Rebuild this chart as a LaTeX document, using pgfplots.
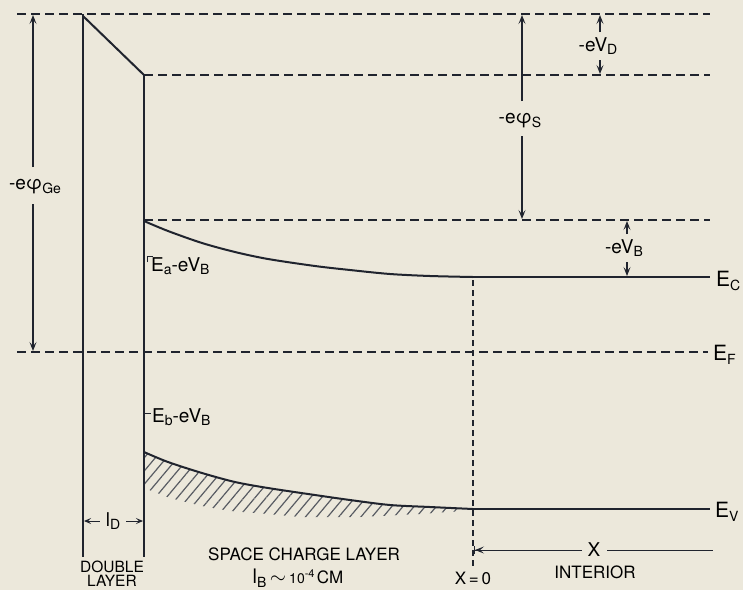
\documentclass[border=0pt]{standalone}
\usepackage{pgfplots}
\pgfplotsset{compat=1.18}
\usepackage{fontspec}
\setmainfont{TeX Gyre Heros}
\usetikzlibrary{arrows.meta,patterns.meta}
\definecolor{bg}{RGB}{236,232,219}
\definecolor{ink}{RGB}{32,36,46}
\newcommand{\sub}[1]{\raisebox{-0.35ex}{\fontsize{14}{14}\selectfont #1}}
\newcommand{\lab}{\fontsize{19}{21}\selectfont}
\newcommand{\biglab}{\fontsize{21}{23}\selectfont}
\newcommand{\caps}{\fontsize{17}{18}\selectfont}
\begin{document}
\begin{tikzpicture}[every node/.style={inner sep=1pt}]
\begin{axis}[width=743pt,height=590pt,scale only axis,hide axis,
  xmin=0,xmax=743,ymin=0,ymax=590,y dir=reverse,clip=false,
  every axis plot/.append style={ink},
  band/.style={ink,line width=2pt},
  dsh/.style={ink,line width=1.8pt,dash pattern=on 9pt off 5pt},
  thin arr/.style={ink,line width=1.1pt,-{Stealth[length=9pt,width=7pt,inset=4pt]}},
  ]
\fill[bg] (rel axis cs:0,0) rectangle (rel axis cs:1,1);
\coordinate (BL) at (rel axis cs:0,0);
\coordinate (TR) at (rel axis cs:1,1);
% hatch under valence band
\addplot[draw=none,pattern={Lines[angle=50,distance=8.5pt,line width=1.2pt]},pattern color=ink!75]
  coordinates {(144,452)(168,462)(202,473)(235,482)(268,488)(315,495)(350,500)(390,505)(430,507)(462,508)
  (462,511)(420,514)(360,517)(300,517)(268,514)(230,511)(202,506)(170,498)(144,488)} -- cycle;
% dashed levels
\addplot[dsh] coordinates {(17,14)(710,14)};
\addplot[dsh] coordinates {(144,75)(710,75)};
\addplot[dsh] coordinates {(144,220)(710,220)};
\addplot[dsh] coordinates {(17,352)(708,352)};
\addplot[ink,line width=1.3pt,dash pattern=on 6pt off 4pt] coordinates {(473,280)(473,566)};
% double layer
\addplot[band] coordinates {(83,14)(83,557)};
\addplot[band] coordinates {(83,16)(144,75)};
\addplot[band] coordinates {(144,75)(144,557)};
% conduction band
\addplot[band,smooth] coordinates {(144,221)(168,231)(202,243)(235,252)(268,259)(315,266)(350,270)(390,274)(430,276)(473,277)};
\addplot[band] coordinates {(473,277)(710,277)};
% valence band
\addplot[band,smooth] coordinates {(144,452)(168,462)(202,473)(235,482)(268,488)(315,495)(350,500)(390,505)(430,507)(473,509)};
\addplot[band] coordinates {(473,509)(710,509)};
% -e phi Ge
\addplot[thin arr] coordinates {(33,167)(33,15)};
\addplot[thin arr] coordinates {(33,204)(33,351)};
\node[font=\lab] at (axis cs:35,187) {-eφ\sub{Ge}};
% -e phi S
\addplot[thin arr] coordinates {(522,101)(522,15)};
\addplot[thin arr] coordinates {(522,136)(522,219)};
\node[font=\lab] at (axis cs:520,121) {-eφ\sub{S}};
% -eV_D
\addplot[thin arr] coordinates {(600,32)(600,15)};
\addplot[thin arr] coordinates {(600,60)(600,74)};
\node[font=\lab] at (axis cs:598,46) {-eV\sub{D}};
% -eV_B
\addplot[thin arr] coordinates {(627,234)(627,221)};
\addplot[thin arr] coordinates {(627,262)(627,276)};
\node[font=\lab] at (axis cs:624,248) {-eV\sub{B}};
% labels of bands
\node[font=\biglab,anchor=west] at (axis cs:715,281) {E\sub{C}};
\node[font=\biglab,anchor=west] at (axis cs:712,355) {E\sub{F}};
\node[font=\biglab,anchor=west] at (axis cs:714,512) {E\sub{V}};
\addplot[ink,line width=1pt] coordinates {(147,262)(147,256)(153,256)};
\node[font=\lab,anchor=west] at (axis cs:150,266) {E\sub{a}-eV\sub{B}};
\addplot[ink,line width=1pt] coordinates {(144,413)(151,413)};
\node[font=\lab,anchor=west] at (axis cs:151,417) {E\sub{b}-eV\sub{B}};
% l_D
\addplot[ink,line width=1pt,{Stealth[length=7pt,width=6pt,inset=3pt]}-] coordinates {(84,521)(100,521)};
\addplot[ink,line width=1pt,-{Stealth[length=7pt,width=6pt,inset=3pt]}] coordinates {(126,521)(143,521)};
\node[font=\lab] at (axis cs:113,521) {l\sub{D}};
\node[font=\fontsize{15.5}{16}\selectfont] at (axis cs:112,567) {DOUBLE};
\node[font=\fontsize{15.5}{16}\selectfont] at (axis cs:112,581) {LAYER};
\node[font=\caps,anchor=west] at (axis cs:207,554) {SPACE CHARGE LAYER};
\node[font=\fontsize{20}{22}\selectfont] at (axis cs:298,578) {l\sub{B}\,$\sim$\,\fontsize{14}{14}\selectfont 10\raisebox{0.75ex}{\fontsize{11}{11}\selectfont -4}\,\fontsize{17}{18}\selectfont CM};
% X arrow
\addplot[ink,line width=1pt,{Bar[width=8pt]Stealth[length=9pt,width=7pt,inset=4pt]}-] coordinates {(474,550)(582,550)};
\addplot[ink,line width=1pt] coordinates {(607,550)(713,550)};
\node[font=\lab] at (axis cs:594,550) {X};
\node[font=\caps] at (axis cs:473,578) {X\,=\,0};
\node[font=\caps] at (axis cs:595,572) {INTERIOR};
\end{axis}
\pgfresetboundingbox
\useasboundingbox (BL) rectangle (TR);
\end{tikzpicture}
\end{document}
